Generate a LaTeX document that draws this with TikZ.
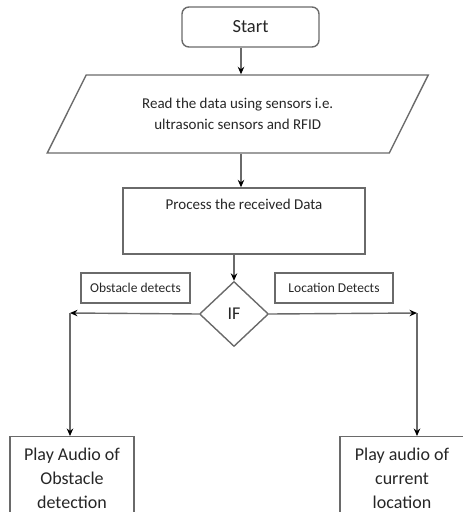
\documentclass[tikz,border=0pt]{standalone}
\usepackage{fontspec}
\setmainfont{Carlito}
\usepackage{tikz}
\usetikzlibrary{arrows.meta,positioning,shapes.geometric}
\definecolor{linegray}{HTML}{6A6A6A}
\definecolor{textgray}{HTML}{262626}
\tikzset{
  ar/.style={-{Stealth[length=7.5pt,width=6.5pt,black]},line width=1.4pt,linegray},
  box/.style={draw=linegray,line width=1.4pt,align=center,text=textgray,inner sep=0pt},
  txt/.style={text=textgray,align=center,inner sep=0pt}
}

\begin{document}
\begin{tikzpicture}[x=1pt,y=-1pt]
\useasboundingbox (0,0) rectangle (463,512);
\clip (0,0) rectangle (463,512);
\node[box,rounded corners=7pt,minimum width=137pt,minimum height=40pt,font=\fontsize{18.5}{20}\selectfont] (start) at (250.5,27) {Start};
\node[box,trapezium,trapezium left angle=39,trapezium right angle=141,trapezium stretches body,minimum width=381pt,minimum height=78pt,font=\fontsize{15}{21}\selectfont] (read) at (237.75,114) {Read the data using sensors i.e.\\ultrasonic sensors and RFID};
\node[box,minimum width=242pt,minimum height=66pt] (proc) at (244,221) {};
\node[txt,font=\fontsize{15}{18}\selectfont,below=12pt of proc.north] (proctext) {Process the received Data};
\node[box,diamond,aspect=1.06,minimum width=69pt,minimum height=65pt,font=\fontsize{18}{20}\selectfont] (if) at (234,314) {IF};
\node[box,minimum width=109pt,minimum height=30pt,font=\fontsize{13.5}{16}\selectfont] (obst) at (135.5,288) {Obstacle detects};
\node[box,minimum width=118pt,minimum height=30pt,font=\fontsize{13.5}{16}\selectfont] (loc) at (334,288) {Location Detects};
\node[box,anchor=north,minimum width=124pt,minimum height=100pt] (playobs) at (72,436) {};
\node[box,anchor=north,minimum width=124pt,minimum height=100pt] (playloc) at (402,436) {};
\node[txt,font=\fontsize{18}{24}\selectfont,below=12pt of playobs.north] (playobstext) {Play Audio of\\Obstacle\\detection};
\node[txt,font=\fontsize{18}{24}\selectfont,below=12pt of playloc.north] (playloctext) {Play audio of\\current\\location};
\coordinate (cornerL) at (70,313);
\coordinate (cornerR) at (417,313);
% connectors
\draw[ar] ([xshift=-9.5pt]start.south) -- ([xshift=-9.5pt]start.south |- read.north);
\draw[ar] ([xshift=-3pt]proc.north |- read.south) -- ([xshift=-3pt]proc.north);
\draw[ar] (proc.south -| if.north) -- (if.north);
\draw[ar] (if.west) -- (cornerL);
\draw[ar] (cornerL) -- (cornerL |- playobs.north);
\draw[ar] (if.east) -- (cornerR);
\draw[ar] (cornerR) -- (cornerR |- playloc.north);
\end{tikzpicture}
\end{document}
